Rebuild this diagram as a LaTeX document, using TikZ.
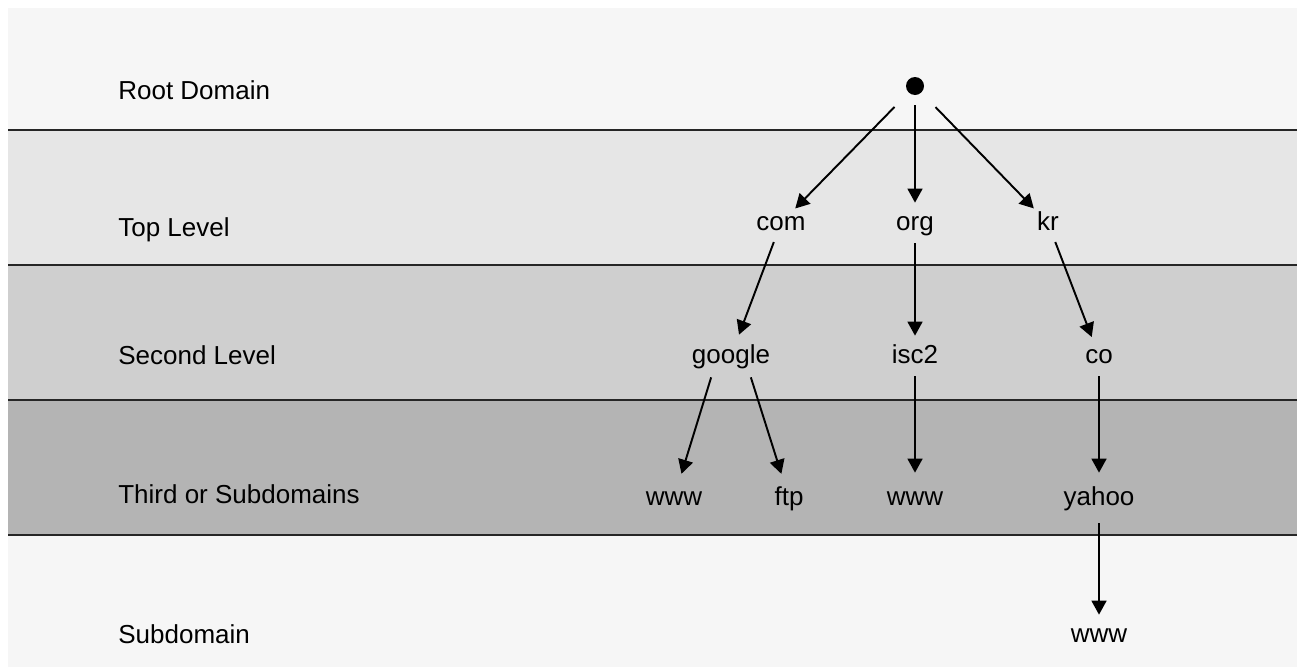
\documentclass[tikz,border=0pt]{standalone}
\usepackage{fontspec}
\setmainfont{Liberation Sans}
\usetikzlibrary{arrows.meta}
\definecolor{paper}{HTML}{F6F6F6}
\definecolor{bandone}{HTML}{E6E6E6}
\definecolor{bandtwo}{HTML}{CFCFCF}
\definecolor{bandthree}{HTML}{B4B4B4}
\tikzstyle{arrow} = [line width=1.1pt,-{Triangle[length=8pt,width=8.5pt]}]

\begin{document}
\begin{tikzpicture}[x=0.02cm,y=-0.02cm,font=\fontsize{14.8}{17}\selectfont,
	level/.style={anchor=base west, inner sep=0pt},
	dom/.style={circle, minimum size=0.8cm, inner sep=0pt},
	deep/.style={dom, minimum size=1cm},
	domtext/.style={text height=2ex, text depth=0.3ex, inner sep=0pt},
	every label/.style={domtext},
	rule/.style={line width=1.3pt, black!85}]

	% BANDS
	\useasboundingbox[fill=white] (0,0) rectangle (1297,667);
	\fill[paper] (8,8) rectangle (1297,667);
	\fill[bandone] (8,130) rectangle (1297,265);
	\fill[bandtwo] (8,265) rectangle (1297,400);
	\fill[bandthree] (8,400) rectangle (1297,535);
	\foreach \y in {130,265,400,535}
		\draw[rule] (8,\y) -- (1297,\y);

	% LEVELS
	\node[level] (rootlvl) at (118,99) {Root Domain};
	\node[level] (toplvl) at (118,236) {Top Level};
	\node[level] (secondlvl) at (118,364) {Second Level};
	\node[level] (thirdlvl) at (118,503) {Third or Subdomains};
	\node[level] (sublvl) at (118,643) {Subdomain};

	% TREE
	\node[circle, fill=black, minimum size=0.36cm, inner sep=0pt] (root) at (915,86) {};
	\node[dom, label=center:com] (com) at (781,223) {};
	\node[dom, label=center:org] (org) at (915,223) {};
	\node[dom, label=center:kr] (kr) at (1048,223) {};
	\node[rectangle, minimum width=0.78cm, minimum height=0.84cm, inner sep=0pt, label=center:google] (google) at (731,356) {};
	\node[dom, label=center:isc2] (isc2) at (915,356) {};
	\node[dom, label=center:co] (co) at (1099,356) {};
	\node[deep, label=center:www] (gwww) at (674,498) {};
	\node[deep, label=center:ftp] (gftp) at (789,498) {};
	\node[deep, label=center:www] (iwww) at (915,498) {};
	\node[deep, label=center:yahoo] (yahoo) at (1099,498) {};
	\node[dom, label=center:www] (ywww) at (1099,635) {};

	\draw[arrow, shorten <=0.4cm] (root) -- (com);
	\draw[arrow, shorten <=0.2cm] (root) -- (org);
	\draw[arrow, shorten <=0.4cm] (root) -- (kr);
	\draw[arrow] (com) -- (google);
	\draw[arrow] (org) -- (isc2);
	\draw[arrow] (kr) -- (co);
	\draw[arrow] (google.south west) -- (gwww);
	\draw[arrow] (google.south east) -- (gftp);
	\draw[arrow] (isc2) -- (iwww);
	\draw[arrow] (co) -- (yahoo);
	\draw[arrow] (yahoo) -- (ywww);

\end{tikzpicture}
\end{document}
